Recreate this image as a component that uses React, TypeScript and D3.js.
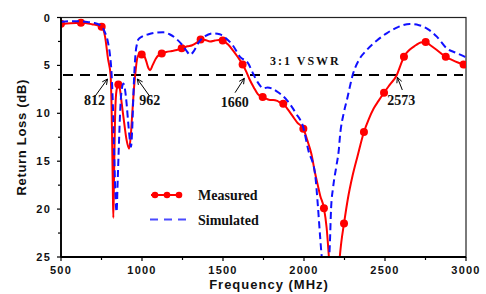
import React from "react";
import * as d3 from "d3";

// ---------- data ----------
const measuredFreq = [500, 560, 623, 690, 751, 772, 790, 806, 815, 820, 823, 827, 833, 840, 848, 854, 862, 875, 890, 905, 920, 930, 940, 950, 958, 968, 980, 998, 1010, 1025, 1040, 1050, 1065, 1085, 1105, 1122, 1150, 1185, 1215, 1245, 1280, 1310, 1340, 1362, 1390, 1420, 1450, 1475, 1498, 1530, 1560, 1590, 1621, 1645, 1665, 1690, 1715, 1745, 1770, 1790, 1810, 1835, 1855, 1872, 1900, 1930, 1960, 1996, 2020, 2045, 2068, 2085, 2100, 2123, 2140, 2155, 2185, 2215, 2230, 2247, 2270, 2300, 2330, 2370, 2400, 2430, 2460, 2494, 2530, 2573, 2600, 2617, 2650, 2690, 2720, 2751, 2780, 2820, 2850, 2875, 2910, 2950, 2985, 3000];
const measuredRL = [0.7, 0.6, 0.55, 0.7, 0.96, 2.0, 4.3, 6.0, 12, 18, 20.9, 17, 11, 8, 7.2, 7.0, 7.3, 9, 11, 12.8, 13.7, 12.5, 10, 7.5, 6.0, 4.5, 3.9, 3.85, 3.9, 4.5, 5.3, 5.5, 5.0, 4.3, 3.9, 3.75, 3.6, 3.5, 3.4, 3.2, 3.0, 2.9, 2.6, 2.3, 2.35, 2.5, 2.4, 2.35, 2.4, 2.8, 3.4, 4.1, 4.9, 5.7, 6.5, 7.3, 8.0, 8.3, 8.5, 8.6, 8.6, 8.7, 8.9, 9.0, 9.6, 10.3, 11.0, 11.6, 12.8, 14.2, 16.2, 17.5, 18.6, 19.9, 22, 25.3, 32, 26, 23.5, 21.5, 19, 16.5, 14.5, 11.95, 10.6, 9.5, 8.7, 7.85, 7.0, 6.0, 4.8, 4.1, 3.4, 2.9, 2.6, 2.55, 2.9, 3.4, 3.8, 4.1, 4.4, 4.7, 4.9, 5.0];

const markerFreq = [500, 623, 751, 854, 998, 1122, 1245, 1362, 1498, 1621, 1745, 1872, 1996, 2123, 2247, 2370, 2494, 2617, 2751, 2875, 2985];
const markerRL = [0.65, 0.55, 0.96, 7.0, 3.85, 3.75, 3.2, 2.3, 2.4, 4.9, 8.3, 9.0, 11.6, 19.9, 21.5, 11.95, 7.85, 4.1, 2.55, 4.1, 4.9];

const simulatedFreq = [500, 550, 600, 650, 700, 741, 770, 790, 803, 812, 820, 828, 835, 843, 850, 858, 866, 875, 885, 895, 905, 915, 925, 932, 940, 946, 952, 960, 970, 977, 1000, 1040, 1080, 1132, 1170, 1210, 1250, 1280, 1296, 1320, 1350, 1390, 1440, 1480, 1520, 1560, 1605, 1656, 1687, 1720, 1749, 1775, 1800, 1840, 1893, 1950, 1996, 2026, 2068, 2085, 2100, 2115, 2135, 2150, 2160, 2167, 2180, 2200, 2215, 2222, 2245, 2265, 2304, 2340, 2387, 2450, 2510, 2580, 2654, 2710, 2757, 2820, 2880, 2940, 2994, 3000];
const simulatedRL = [0.45, 0.4, 0.4, 0.45, 0.55, 0.8, 1.5, 2.6, 4.0, 5.8, 9, 14, 18, 20.3, 17, 13, 9.5, 7.5, 6.9, 7.5, 9, 11, 12.8, 13.5, 11.5, 8.5, 6, 3.8, 2.7, 2.3, 2.0, 1.75, 1.6, 1.55, 1.75, 2.2, 2.9, 3.6, 3.9, 3.5, 2.6, 1.95, 1.65, 1.75, 2.2, 2.9, 4.1, 4.8, 5.9, 6.9, 7.4, 7.3, 7.4, 7.8, 8.6, 10.0, 11.5, 13.8, 16.3, 19.5, 23, 26, 28, 26.5, 23.5, 20, 17.7, 15.5, 13.8, 12.4, 10.0, 8.6, 5.8, 4.4, 3.4, 2.4, 1.65, 1.0, 0.68, 0.8, 1.13, 2.0, 3.2, 3.7, 4.1, 4.15];

const xTicks = [500, 1000, 1500, 2000, 2500, 3000];
const xMinorTicks = [750, 1250, 1750, 2250, 2750];
const yTicks = [0, 5, 10, 15, 20, 25];
const yMinorTicks = [2.5, 7.5, 12.5, 17.5, 22.5];

const vswrLevel = 6;
const vswrLabel = "3:1 VSWR";
const annFreq = [812, 962, 1660, 2573];
const annLabel = ["812", "962", "1660", "2573"];

const seriesNames = ["Measured", "Simulated"];
const xTitle = "Frequency (MHz)";
const yTitle = "Return Loss (dB)";

// ---------- layout ----------
const W = 486;
const H = 294;
const M = { left: 61, right: 466, top: 17.5, bottom: 257 };
// per annotation: tip offset from (x(f), y(6)), tail offset from tip, label center
const annLayout = [
  { tipDx: -4, tipDy: 4, tailDx: -13, tailDy: 18, lx: -17, ly: 30 },
  { tipDx: 1.5, tipDy: 4, tailDx: 12.5, tailDy: 17.5, lx: 14, ly: 30 },
  { tipDx: -4.6, tipDy: 3.3, tailDx: -9.3, tailDy: 14.4, lx: -14.2, ly: 32.5 },
  { tipDx: 0.5, tipDy: 2.3, tailDx: 5, tailDy: 12.7, lx: 4.5, ly: 30 },
];

const RED = "#ff0000";
const BLUE = "#1010ff";
const SANS = "'Liberation Sans', Arial, sans-serif";
const SERIF = "'Liberation Serif', 'Times New Roman', serif";

export default function App() {
  const x = d3.scaleLinear().domain([500, 3000]).range([M.left, M.right]);
  const y = d3.scaleLinear().domain([0, 25]).range([M.top, M.bottom]);

  const line = d3
    .line<[number, number]>()
    .x((d) => x(d[0]))
    .y((d) => y(d[1]))
    .curve(d3.curveMonotoneX);

  const measured: [number, number][] = measuredFreq.map((f, i) => [f, measuredRL[i]]);
  const simulated: [number, number][] = simulatedFreq.map((f, i) => [f, simulatedRL[i]]);
  const markers: [number, number][] = markerFreq.map((f, i) => [f, markerRL[i]]);

  const y6 = y(vswrLevel);

  return (
    <svg width={W} height={H} style={{ position: "absolute", left: 0, top: 0 }}>
      <rect x={0} y={0} width={W} height={H} fill="#ffffff" />
      <defs>
        <clipPath id="plotClip">
          <rect x={M.left} y={M.top} width={M.right - M.left} height={M.bottom - M.top} />
        </clipPath>
      </defs>

      {/* frame */}
      <rect
        x={M.left}
        y={M.top}
        width={M.right - M.left}
        height={M.bottom - M.top}
        fill="none"
        stroke="#222"
        strokeWidth={1.2}
      />

      {/* VSWR reference line */}
      <line
        x1={M.left + 2}
        x2={M.right - 3}
        y1={y6}
        y2={y6}
        stroke="#000"
        strokeWidth={2}
        strokeDasharray="10 7"
      />
      <text
        x={270}
        y={65}
        fontFamily={SERIF}
        fontWeight="bold"
        fontSize={12}
        letterSpacing={2}
        fill="#111"
      >
        {vswrLabel}
      </text>

      <g clipPath="url(#plotClip)">
        <path d={line(measured) || ""} fill="none" stroke={RED} strokeWidth={2} />
        {markers.map((d, i) => (
          <circle key={i} cx={x(d[0])} cy={y(d[1])} r={4} fill={RED} />
        ))}
        <path
          d={line(simulated) || ""}
          fill="none"
          stroke={BLUE}
          strokeWidth={2}
          strokeDasharray="7 4"
        />
      </g>

      {/* annotations */}
      {annFreq.map((f, i) => {
        const L = annLayout[i];
        const tx = x(f) + L.tipDx;
        const ty = y6 + L.tipDy;
        const sx = tx + L.tailDx;
        const sy = ty + L.tailDy;
        const ang = Math.atan2(sy - ty, sx - tx);
        const a = 0.45;
        const len = 6;
        const p1 = [tx + len * Math.cos(ang + a), ty + len * Math.sin(ang + a)];
        const p2 = [tx + len * Math.cos(ang - a), ty + len * Math.sin(ang - a)];
        return (
          <g key={i}>
            <line x1={sx} y1={sy} x2={tx} y2={ty} stroke="#000" strokeWidth={1} />
            <polyline
              points={`${p1[0]},${p1[1]} ${tx},${ty} ${p2[0]},${p2[1]}`}
              fill="none"
              stroke="#000"
              strokeWidth={1}
            />
            <text
              x={x(f) + L.lx}
              y={y6 + L.ly}
              textAnchor="middle"
              fontFamily={SERIF}
              fontWeight="bold"
              fontSize={14}
              fill="#111"
            >
              {annLabel[i]}
            </text>
          </g>
        );
      })}

      {/* axes */}
      <line x1={M.left} x2={M.left} y1={M.top} y2={M.bottom} stroke="#000" strokeWidth={1.8} />
      <line x1={M.left} x2={M.right} y1={M.bottom} y2={M.bottom} stroke="#000" strokeWidth={1.8} />
      {xTicks.map((t) => (
        <g key={"xt" + t}>
          <line x1={x(t)} x2={x(t)} y1={M.bottom} y2={M.bottom + 4} stroke="#000" strokeWidth={1.2} />
          <text
            x={x(t)}
            y={274}
            textAnchor="middle"
            fontFamily={SANS}
            fontWeight="bold"
            fontSize={11}
            letterSpacing={1.2}
            fill="#111"
          >
            {t}
          </text>
        </g>
      ))}
      {xMinorTicks.map((t) => (
        <line key={"xm" + t} x1={x(t)} x2={x(t)} y1={M.bottom} y2={M.bottom + 3} stroke="#000" strokeWidth={1.2} />
      ))}
      {yTicks.map((t) => (
        <g key={"yt" + t}>
          <line x1={M.left - 4} x2={M.left} y1={y(t)} y2={y(t)} stroke="#000" strokeWidth={1.2} />
          <text
            x={51}
            y={y(t) + 4}
            textAnchor="end"
            fontFamily={SANS}
            fontWeight="bold"
            fontSize={11}
            letterSpacing={1.2}
            fill="#111"
          >
            {t}
          </text>
        </g>
      ))}
      {yMinorTicks.map((t) => (
        <line key={"ym" + t} x1={M.left - 3} x2={M.left} y1={y(t)} y2={y(t)} stroke="#000" strokeWidth={1.2} />
      ))}

      <text
        x={269}
        y={289}
        textAnchor="middle"
        fontFamily={SANS}
        fontWeight="bold"
        fontSize={13}
        letterSpacing={1}
        fill="#111"
      >
        {xTitle}
      </text>
      <text
        transform={`translate(26, ${(M.top + M.bottom) / 2}) rotate(-90)`}
        textAnchor="middle"
        fontFamily={SANS}
        fontWeight="bold"
        fontSize={13}
        letterSpacing={0.7}
        fill="#111"
      >
        {yTitle}
      </text>

      {/* legend */}
      <g>
        <line x1={151} x2={182} y1={195} y2={195} stroke={RED} strokeWidth={2} />
        {[155, 167, 179].map((cx) => (
          <circle key={cx} cx={cx} cy={195} r={3.3} fill={RED} />
        ))}
        <text x={198} y={200} fontFamily={SERIF} fontWeight="bold" fontSize={14} fill="#111">
          {seriesNames[0]}
        </text>
        <line
          x1={150}
          x2={187}
          y1={219.5}
          y2={219.5}
          stroke="#4a4aff"
          strokeWidth={2}
          strokeDasharray="8 6"
        />
        <text x={198} y={224.5} fontFamily={SERIF} fontWeight="bold" fontSize={14} fill="#111">
          {seriesNames[1]}
        </text>
      </g>
    </svg>
  );
}
